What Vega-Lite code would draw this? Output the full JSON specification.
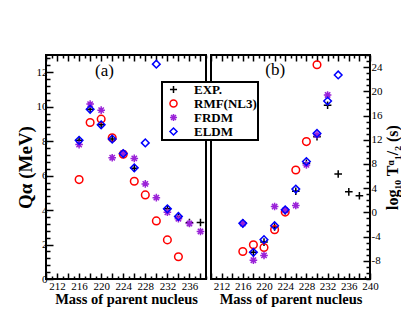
{
  "$schema": "https://vega.github.io/schema/vega-lite/v6.json",
  "padding": {"left": 15, "top": 48, "right": 0, "bottom": 0},
  "spacing": 0,
  "datasets": {
    "pts": [
      {"panel": "a", "series": "EXP.", "mass": 216, "value": 8.05},
      {"panel": "a", "series": "EXP.", "mass": 218, "value": 9.85},
      {"panel": "a", "series": "EXP.", "mass": 220, "value": 8.95},
      {"panel": "a", "series": "EXP.", "mass": 222, "value": 8.12},
      {"panel": "a", "series": "EXP.", "mass": 224, "value": 7.28},
      {"panel": "a", "series": "EXP.", "mass": 226, "value": 6.43},
      {"panel": "a", "series": "EXP.", "mass": 232, "value": 4.07},
      {"panel": "a", "series": "EXP.", "mass": 234, "value": 3.62},
      {"panel": "a", "series": "EXP.", "mass": 236, "value": 3.27},
      {"panel": "a", "series": "EXP.", "mass": 238, "value": 3.28},
      {"panel": "a", "series": "RMF(NL3)", "mass": 216, "value": 5.77},
      {"panel": "a", "series": "RMF(NL3)", "mass": 218, "value": 9.08},
      {"panel": "a", "series": "RMF(NL3)", "mass": 220, "value": 9.28},
      {"panel": "a", "series": "RMF(NL3)", "mass": 222, "value": 8.2},
      {"panel": "a", "series": "RMF(NL3)", "mass": 224, "value": 7.24},
      {"panel": "a", "series": "RMF(NL3)", "mass": 226, "value": 5.67},
      {"panel": "a", "series": "RMF(NL3)", "mass": 228, "value": 4.88},
      {"panel": "a", "series": "RMF(NL3)", "mass": 230, "value": 3.37},
      {"panel": "a", "series": "RMF(NL3)", "mass": 232, "value": 2.27},
      {"panel": "a", "series": "RMF(NL3)", "mass": 234, "value": 1.29},
      {"panel": "a", "series": "FRDM", "mass": 216, "value": 7.8},
      {"panel": "a", "series": "FRDM", "mass": 218, "value": 10.15},
      {"panel": "a", "series": "FRDM", "mass": 220, "value": 9.8},
      {"panel": "a", "series": "FRDM", "mass": 222, "value": 7.04},
      {"panel": "a", "series": "FRDM", "mass": 224, "value": 7.3},
      {"panel": "a", "series": "FRDM", "mass": 226, "value": 7.0},
      {"panel": "a", "series": "FRDM", "mass": 228, "value": 5.52},
      {"panel": "a", "series": "FRDM", "mass": 230, "value": 4.72},
      {"panel": "a", "series": "FRDM", "mass": 232, "value": 3.87},
      {"panel": "a", "series": "FRDM", "mass": 234, "value": 3.5},
      {"panel": "a", "series": "FRDM", "mass": 236, "value": 3.22},
      {"panel": "a", "series": "FRDM", "mass": 238, "value": 2.76},
      {"panel": "a", "series": "ELDM", "mass": 216, "value": 8.05},
      {"panel": "a", "series": "ELDM", "mass": 218, "value": 9.85},
      {"panel": "a", "series": "ELDM", "mass": 220, "value": 8.95},
      {"panel": "a", "series": "ELDM", "mass": 222, "value": 8.12},
      {"panel": "a", "series": "ELDM", "mass": 224, "value": 7.28},
      {"panel": "a", "series": "ELDM", "mass": 226, "value": 6.45},
      {"panel": "a", "series": "ELDM", "mass": 228, "value": 7.9},
      {"panel": "a", "series": "ELDM", "mass": 230, "value": 12.47},
      {"panel": "a", "series": "ELDM", "mass": 232, "value": 4.07},
      {"panel": "a", "series": "ELDM", "mass": 234, "value": 3.63},
      {"panel": "b", "series": "EXP.", "mass": 216, "value": -1.7},
      {"panel": "b", "series": "EXP.", "mass": 218, "value": -6.6},
      {"panel": "b", "series": "EXP.", "mass": 220, "value": -4.9},
      {"panel": "b", "series": "EXP.", "mass": 222, "value": -2.4},
      {"panel": "b", "series": "EXP.", "mass": 224, "value": 0.3},
      {"panel": "b", "series": "EXP.", "mass": 226, "value": 3.5},
      {"panel": "b", "series": "EXP.", "mass": 228, "value": 8.1},
      {"panel": "b", "series": "EXP.", "mass": 230, "value": 12.5},
      {"panel": "b", "series": "EXP.", "mass": 232, "value": 17.7},
      {"panel": "b", "series": "EXP.", "mass": 234, "value": 6.35},
      {"panel": "b", "series": "EXP.", "mass": 236, "value": 3.4},
      {"panel": "b", "series": "EXP.", "mass": 238, "value": 2.75},
      {"panel": "b", "series": "RMF(NL3)", "mass": 216, "value": -6.45},
      {"panel": "b", "series": "RMF(NL3)", "mass": 218, "value": -5.35},
      {"panel": "b", "series": "RMF(NL3)", "mass": 220, "value": -5.8},
      {"panel": "b", "series": "RMF(NL3)", "mass": 222, "value": -2.85},
      {"panel": "b", "series": "RMF(NL3)", "mass": 224, "value": 0.05},
      {"panel": "b", "series": "RMF(NL3)", "mass": 226, "value": 7.0},
      {"panel": "b", "series": "RMF(NL3)", "mass": 228, "value": 11.7},
      {"panel": "b", "series": "RMF(NL3)", "mass": 230, "value": 24.4},
      {"panel": "b", "series": "FRDM", "mass": 216, "value": -1.85},
      {"panel": "b", "series": "FRDM", "mass": 218, "value": -7.9},
      {"panel": "b", "series": "FRDM", "mass": 220, "value": -7.1},
      {"panel": "b", "series": "FRDM", "mass": 222, "value": 0.97},
      {"panel": "b", "series": "FRDM", "mass": 224, "value": 0.35},
      {"panel": "b", "series": "FRDM", "mass": 226, "value": 1.15},
      {"panel": "b", "series": "FRDM", "mass": 228, "value": 7.85},
      {"panel": "b", "series": "FRDM", "mass": 230, "value": 12.8},
      {"panel": "b", "series": "FRDM", "mass": 232, "value": 19.4},
      {"panel": "b", "series": "ELDM", "mass": 216, "value": -1.8},
      {"panel": "b", "series": "ELDM", "mass": 218, "value": -6.6},
      {"panel": "b", "series": "ELDM", "mass": 220, "value": -4.5},
      {"panel": "b", "series": "ELDM", "mass": 222, "value": -2.2},
      {"panel": "b", "series": "ELDM", "mass": 224, "value": 0.42},
      {"panel": "b", "series": "ELDM", "mass": 226, "value": 3.85},
      {"panel": "b", "series": "ELDM", "mass": 228, "value": 8.4},
      {"panel": "b", "series": "ELDM", "mass": 230, "value": 13.05},
      {"panel": "b", "series": "ELDM", "mass": 232, "value": 18.4},
      {"panel": "b", "series": "ELDM", "mass": 234, "value": 22.7}
    ],
    "lab": [
      {"panel": "a", "x": 220.6, "y": 12.1, "text": "(a)"},
      {"panel": "b", "x": 222.1, "y": 23.6, "text": "(b)"}
    ]
  },
  "hconcat": [
    {
      "width": 160,
      "height": 224,
      "layer": [
        {
          "data": {"name": "pts"},
          "transform": [{"filter": "datum.panel === 'a'"}],
          "mark": {"type": "point", "filled": false, "size": 58, "strokeWidth": 1.5, "opacity": 1},
          "encoding": {
            "x": {"field": "mass", "type": "quantitative",
              "scale": {"domain": [210, 239], "nice": false, "zero": false},
              "axis": {"orient": "bottom", "title": "Mass of parent nucleus", "titleFontSize": 14.5,
                "values": [210,211,212,213,214,215,216,217,218,219,220,221,222,223,224,225,226,227,228,229,230,231,232,233,234,235,236,237,238,239],
                "labelExpr": "datum.value % 4 === 0 ? toString(datum.value) : ''",
                "tickSize": {"condition": {"test": "datum.value % 2 === 0", "value": -6}, "value": -3},
                "labelPadding": 7, "titlePadding": -2, "labelOverlap": false, "labelFlush": false, "labelBound": false}},
            "y": {"field": "value", "type": "quantitative",
              "scale": {"domain": [0, 13], "nice": false, "zero": false},
              "axis": {"orient": "left", "title": "Qα (MeV)", "titleFontSize": 19,
                "values": [0,0.4,0.8,1.2,1.6,2,2.4,2.8,3.2,3.6,4,4.4,4.8,5.2,5.6,6,6.4,6.8,7.2,7.6,8,8.4,8.8,9.2,9.6,10,10.4,10.8,11.2,11.6,12,12.4,12.8],
                "labelExpr": "datum.value % 2 === 0 ? toString(datum.value) : ''",
                "tickSize": {"condition": {"test": "datum.value % 2 === 0", "value": -7}, "value": -4},
                "labelPadding": 6, "titlePadding": 1, "labelOverlap": false, "labelFlush": false, "labelBound": false}},
            "color": {"field": "series", "type": "nominal",
              "scale": {"domain": ["EXP.", "RMF(NL3)", "FRDM", "ELDM"], "range": ["#000000", "#ff0000", "#9a22d8", "#0000ff"]},
              "legend": {"orient": "none", "legendX": 116, "legendY": 27, "title": null, "strokeColor": "black", "fillColor": "white", "padding": 1, "labelFont": "Liberation Serif", "labelFontSize": 13, "labelFontWeight": "bold", "labelColor": "black", "symbolSize": 50, "symbolStrokeWidth": 1.5, "symbolOffset": 4, "rowPadding": -1.5, "labelOffset": 14}},
            "shape": {"field": "series", "type": "nominal",
              "scale": {"domain": ["EXP.", "RMF(NL3)", "FRDM", "ELDM"], "range": ["M-1,0H1M0,-1V1", "circle", "M-1,0H1M0,-1V1M-0.7,-0.7L0.7,0.7M-0.7,0.7L0.7,-0.7M-0.35,-0.35H0.35V0.35H-0.35Z", "diamond"]},
              "legend": {"orient": "none", "legendX": 116, "legendY": 27, "title": null, "strokeColor": "black", "fillColor": "white", "padding": 1, "labelFont": "Liberation Serif", "labelFontSize": 13, "labelFontWeight": "bold", "labelColor": "black", "symbolSize": 50, "symbolStrokeWidth": 1.5, "symbolOffset": 4, "rowPadding": -1.5, "labelOffset": 14}}
          }
        },
        {
          "data": {"name": "lab"},
          "transform": [{"filter": "datum.panel === 'a'"}],
          "mark": {"type": "text", "font": "Liberation Serif", "fontSize": 17, "color": "black"},
          "encoding": {
            "x": {"field": "x", "type": "quantitative",
              "axis": {"orient": "top", "title": null, "labels": false,
                "values": [210,211,212,213,214,215,216,217,218,219,220,221,222,223,224,225,226,227,228,229,230,231,232,233,234,235,236,237,238,239],
                "tickSize": {"condition": {"test": "datum.value % 2 === 0", "value": -6}, "value": -3}}},
            "y": {"field": "y", "type": "quantitative", "axis": null},
            "text": {"field": "text"}
          }
        }
      ],
      "resolve": {"axis": {"x": "independent", "y": "independent"}}
    },
    {
      "width": 159,
      "height": 224,
      "layer": [
        {
          "data": {"name": "pts"},
          "transform": [{"filter": "datum.panel === 'b'"}],
          "mark": {"type": "point", "filled": false, "size": 58, "strokeWidth": 1.5, "opacity": 1},
          "encoding": {
            "x": {"field": "mass", "type": "quantitative",
              "scale": {"domain": [210, 240], "nice": false, "zero": false},
              "axis": {"orient": "bottom", "title": "Mass of parent nucleus", "titleFontSize": 14.5,
                "values": [210,211,212,213,214,215,216,217,218,219,220,221,222,223,224,225,226,227,228,229,230,231,232,233,234,235,236,237,238,239,240],
                "labelExpr": "datum.value % 4 === 0 ? toString(datum.value) : ''",
                "tickSize": {"condition": {"test": "datum.value % 2 === 0", "value": -6}, "value": -3},
                "labelPadding": 7, "titlePadding": -2, "labelOverlap": false, "labelFlush": false, "labelBound": false}},
            "y": {"field": "value", "type": "quantitative",
              "scale": {"domain": [-11, 26], "nice": false, "zero": false},
              "axis": {"orient": "right", "title": "log₁₀ Tᵅ₁/₂ (s)", "titleFontSize": 16, "titleAngle": 270, "titleBaseline": "top",
                "values": [-11,-10,-9,-8,-7,-6,-5,-4,-3,-2,-1,0,1,2,3,4,5,6,7,8,9,10,11,12,13,14,15,16,17,18,19,20,21,22,23,24,25,26],
                "labelExpr": "datum.value % 4 === 0 ? toString(datum.value) : ''",
                "tickSize": {"condition": {"test": "datum.value % 4 === 0", "value": -7}, "value": -4},
                "labelPadding": 8, "titlePadding": 2, "labelOverlap": false, "labelFlush": false, "labelBound": false}},
            "color": {"field": "series", "type": "nominal",
              "scale": {"domain": ["EXP.", "RMF(NL3)", "FRDM", "ELDM"], "range": ["#000000", "#ff0000", "#9a22d8", "#0000ff"]},
              "legend": {"orient": "none", "legendX": 116, "legendY": 27, "title": null, "strokeColor": "black", "fillColor": "white", "padding": 1, "labelFont": "Liberation Serif", "labelFontSize": 13, "labelFontWeight": "bold", "labelColor": "black", "symbolSize": 50, "symbolStrokeWidth": 1.5, "symbolOffset": 4, "rowPadding": -1.5, "labelOffset": 14}},
            "shape": {"field": "series", "type": "nominal",
              "scale": {"domain": ["EXP.", "RMF(NL3)", "FRDM", "ELDM"], "range": ["M-1,0H1M0,-1V1", "circle", "M-1,0H1M0,-1V1M-0.7,-0.7L0.7,0.7M-0.7,0.7L0.7,-0.7M-0.35,-0.35H0.35V0.35H-0.35Z", "diamond"]},
              "legend": {"orient": "none", "legendX": 116, "legendY": 27, "title": null, "strokeColor": "black", "fillColor": "white", "padding": 1, "labelFont": "Liberation Serif", "labelFontSize": 13, "labelFontWeight": "bold", "labelColor": "black", "symbolSize": 50, "symbolStrokeWidth": 1.5, "symbolOffset": 4, "rowPadding": -1.5, "labelOffset": 14}}
          }
        },
        {
          "data": {"name": "lab"},
          "transform": [{"filter": "datum.panel === 'b'"}],
          "mark": {"type": "text", "font": "Liberation Serif", "fontSize": 17, "color": "black"},
          "encoding": {
            "x": {"field": "x", "type": "quantitative",
              "axis": {"orient": "top", "title": null, "labels": false,
                "values": [210,211,212,213,214,215,216,217,218,219,220,221,222,223,224,225,226,227,228,229,230,231,232,233,234,235,236,237,238,239,240],
                "tickSize": {"condition": {"test": "datum.value % 2 === 0", "value": -6}, "value": -3}}},
            "y": {"field": "y", "type": "quantitative", "axis": null},
            "text": {"field": "text"}
          }
        }
      ],
      "resolve": {"axis": {"x": "independent", "y": "independent"}}
    }
  ],
  "resolve": {"scale": {"color": "shared", "shape": "shared"}, "legend": {"color": "shared", "shape": "shared"}},
  "config": {
    "view": {"stroke": "black", "strokeWidth": 2},
    "font": "Liberation Serif",
    "axis": {"labelFont": "Liberation Serif", "labelFontSize": 11, "labelColor": "black", "tickColor": "black", "tickWidth": 1.5, "titleFont": "Liberation Serif", "titleFontWeight": "bold", "titleFontSize": 13, "titleColor": "black", "grid": false, "domain": false},
    "legend": {"strokeWidth": 2}
  }
}
